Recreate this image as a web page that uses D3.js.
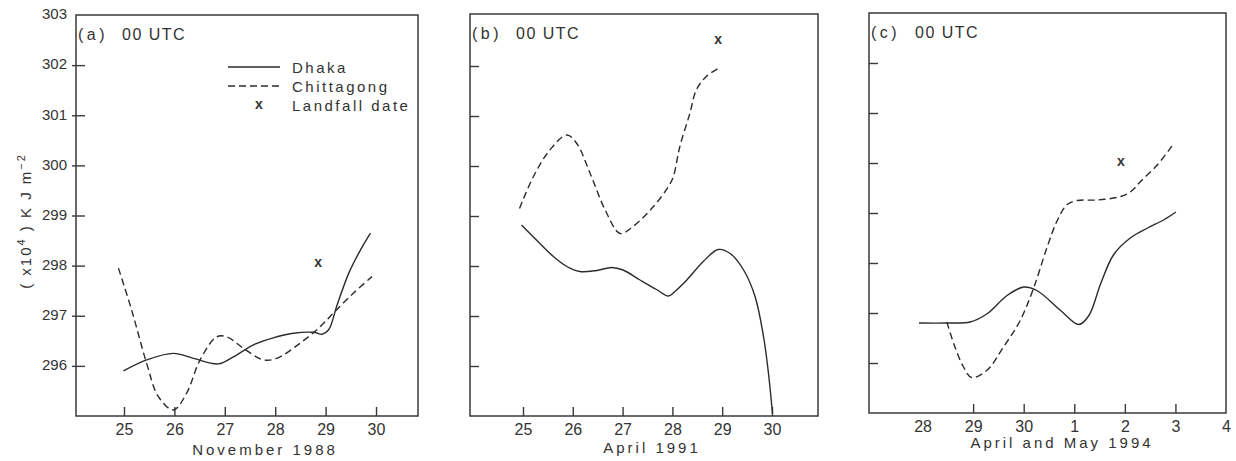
<!DOCTYPE html>
<html><head><meta charset="utf-8">
<script src="https://cdn.jsdelivr.net/npm/d3@7"></script>
<style>
body{margin:0;background:#fff}
svg{display:block}
text{font-family:"Liberation Sans",Arial,sans-serif;fill:#333}
.ylab text{font-size:15px}
.xlab text{font-size:16px}
.title{font-size:15px;letter-spacing:3px}
.ytitle{font-size:15px;letter-spacing:2px}
.plabel{font-size:16px;letter-spacing:1.5px}
.tag{letter-spacing:3.5px}
.legend{font-size:15px;letter-spacing:2.5px}
.mark{font-size:14px;font-weight:bold}
</style></head><body>
<svg id="chart" width="1236" height="461"></svg>
<script>
// ---------- shared ----------
const yTickValues = [296, 297, 298, 299, 300, 301, 302];
const yTickLabels = [296, 297, 298, 299, 300, 301, 302, 303];

// ---------- panel (a) November 1988 ----------
const aTickDays = [25, 26, 27, 28, 29, 30];
const aTickLabels = ["25", "26", "27", "28", "29", "30"];
const aDhakaDay = [24.99, 25.45, 25.98, 26.38, 26.87, 27.17, 27.57, 27.96, 28.36, 28.76, 28.93, 29.06, 29.23, 29.46, 29.69, 29.89];
const aDhakaVal = [295.90, 296.12, 296.25, 296.15, 296.04, 296.18, 296.42, 296.56, 296.65, 296.67, 296.63, 296.72, 297.22, 297.85, 298.31, 298.65];
const aChitDay = [24.89, 25.15, 25.45, 25.68, 25.98, 26.24, 26.51, 26.84, 27.04, 27.37, 27.76, 28.03, 28.49, 28.89, 29.15, 29.55, 29.92];
const aChitVal = [297.95, 297.12, 296.05, 295.39, 295.12, 295.45, 296.12, 296.58, 296.58, 296.35, 296.12, 296.15, 296.45, 296.78, 297.05, 297.45, 297.78];
const aLandfall = [28.85, 298.06];

// ---------- panel (b) April 1991 ----------
const bTickDays = [25, 26, 27, 28, 29, 30];
const bTickLabels = ["25", "26", "27", "28", "29", "30"];
const bDhakaDay = [24.97, 25.27, 25.61, 25.88, 26.14, 26.48, 26.78, 27.01, 27.35, 27.68, 27.92, 28.05, 28.29, 28.62, 28.92, 29.16, 29.43, 29.66, 29.83, 29.93, 30.01];
const bDhakaVal = [298.82, 298.52, 298.19, 297.99, 297.89, 297.91, 297.97, 297.92, 297.72, 297.53, 297.40, 297.49, 297.72, 298.09, 298.33, 298.25, 297.92, 297.39, 296.59, 295.85, 295.05];
const bChitDay = [24.93, 25.21, 25.54, 25.88, 26.08, 26.35, 26.65, 26.95, 27.21, 27.62, 27.92, 28.02, 28.15, 28.35, 28.48, 28.68, 28.92];
const bChitVal = [299.15, 299.79, 300.32, 300.62, 300.45, 299.85, 299.12, 298.65, 298.79, 299.19, 299.59, 299.79, 300.39, 301.05, 301.52, 301.79, 301.95];
const bLandfall = [28.92, 302.52];

// ---------- panel (c) April and May 1994 (index 0 = 28 April) ----------
const cTickIdx = [1, 2, 3, 4, 5];
const cLabelIdx = [0, 1, 2, 3, 4, 5, 6];
const cTickLabels = ["28", "29", "30", "1", "2", "3", "4"];
const cDhakaIdx = [-0.07, 0.48, 0.94, 1.27, 1.67, 2.00, 2.26, 2.73, 3.09, 3.29, 3.52, 3.78, 4.12, 4.45, 4.78, 5.01];
const cDhakaVal = [296.80, 296.80, 296.82, 296.98, 297.35, 297.52, 297.45, 297.05, 296.77, 296.95, 297.58, 298.17, 298.51, 298.70, 298.87, 299.02];
const cChitIdx = [0.48, 0.64, 0.81, 0.97, 1.27, 1.60, 1.93, 2.20, 2.46, 2.66, 2.86, 3.06, 3.45, 3.92, 4.12, 4.31, 4.64, 4.94];
const cChitVal = [296.82, 296.32, 295.92, 295.71, 295.85, 296.32, 296.85, 297.51, 298.31, 298.84, 299.17, 299.25, 299.26, 299.33, 299.43, 299.63, 299.96, 300.35];
const cLandfall = [3.92, 300.03];

const svg = d3.select("#chart");

function zip(xs, ys) { return xs.map((d, i) => [d, ys[i]]); }

function drawPanel(cfg) {
  const g = svg.append("g");
  const x = d3.scaleLinear().domain(cfg.xDomain).range([cfg.left, cfg.right]);
  const y = d3.scaleLinear().domain([295, 303]).range([cfg.bottom, cfg.y303]);

  // frame
  g.append("rect")
    .attr("x", cfg.left).attr("y", cfg.top)
    .attr("width", cfg.right - cfg.left).attr("height", cfg.bottom - cfg.top)
    .attr("fill", "none").attr("stroke", "#3a3a3a").attr("stroke-width", 1.5);

  // bottom ticks (inward)
  const bt = g.append("g").attr("transform", `translate(0,${cfg.bottom})`)
    .call(d3.axisBottom(x).tickValues(cfg.tickVals).tickSize(-9).tickFormat(""));
  bt.select(".domain").remove();
  bt.selectAll("line").attr("stroke", "#3a3a3a").attr("stroke-width", 1.4);

  // bottom labels
  const bl = g.append("g").attr("class", "xlab").attr("transform", `translate(0,${cfg.bottom})`)
    .call(d3.axisBottom(x).tickValues(cfg.labelVals).tickSize(0).tickPadding(8)
      .tickFormat((d, i) => cfg.labels[i]));
  bl.select(".domain").remove();
  bl.selectAll("text").attr("fill", "#333");

  // left ticks (inward)
  const lt = g.append("g").attr("transform", `translate(${cfg.left},0)`)
    .call(d3.axisLeft(y).tickValues(yTickValues).tickSize(-9).tickFormat(""));
  lt.select(".domain").remove();
  lt.selectAll("line").attr("stroke", "#3a3a3a").attr("stroke-width", 1.4);

  if (cfg.yLabels) {
    const ol = g.append("g").attr("transform", `translate(${cfg.left},0)`)
      .call(d3.axisLeft(y).tickValues(yTickValues).tickSize(4).tickFormat(""));
    ol.select(".domain").remove();
    ol.selectAll("line").attr("stroke", "#3a3a3a").attr("stroke-width", 1.4);
    const yl = g.append("g").attr("class", "ylab").attr("transform", `translate(${cfg.left},0)`)
      .call(d3.axisLeft(y).tickValues(yTickLabels).tickSize(0).tickPadding(9).tickFormat(d3.format("d")));
    yl.select(".domain").remove();
    yl.selectAll("text").attr("fill", "#333").attr("dy", "0.25em");
  }

  const line = d3.line().x(d => x(d[0])).y(d => y(d[1])).curve(d3.curveCatmullRom.alpha(0.5));
  g.append("path").datum(zip(cfg.dhakaX, cfg.dhakaY)).attr("d", line)
    .attr("fill", "none").attr("stroke", "#2b2b2b").attr("stroke-width", 1.4);
  g.append("path").datum(zip(cfg.chitX, cfg.chitY)).attr("d", line)
    .attr("fill", "none").attr("stroke", "#2b2b2b").attr("stroke-width", 1.4)
    .attr("stroke-dasharray", "7,4");

  g.append("text").attr("class", "mark").attr("text-anchor", "middle")
    .attr("x", x(cfg.landfall[0])).attr("y", y(cfg.landfall[1])).attr("dy", "0.3em").text("x");

  // panel label
  const pl = g.append("text").attr("class", "plabel").attr("y", cfg.top + 25);
  pl.append("tspan").attr("class", "tag").attr("x", cfg.left + 2).text(cfg.tag);
  pl.append("tspan").attr("x", cfg.left + 46).text("00 UTC");

  // axis title
  g.append("text").attr("class", "title").attr("text-anchor", "middle")
    .attr("x", cfg.titleX).attr("y", cfg.titleY).text(cfg.title);
  return { x, y };
}

drawPanel({
  left: 76, right: 418, top: 15, bottom: 416, y303: 15,
  xDomain: [24.048, 30.833],
  tickVals: aTickDays, labelVals: aTickDays, labels: aTickLabels,
  dhakaX: aDhakaDay, dhakaY: aDhakaVal, chitX: aChitDay, chitY: aChitVal,
  landfall: aLandfall, tag: "(a)", yLabels: true,
  title: "November 1988", titleX: 265, titleY: 455
});
drawPanel({
  left: 470, right: 818, top: 14, bottom: 416, y303: 16,
  xDomain: [23.936, 30.924],
  tickVals: bTickDays, labelVals: bTickDays, labels: bTickLabels,
  dhakaX: bDhakaDay, dhakaY: bDhakaVal, chitX: bChitDay, chitY: bChitVal,
  landfall: bLandfall, tag: "(b)", yLabels: false,
  title: "April 1991", titleX: 652, titleY: 453
});
drawPanel({
  left: 869, right: 1226, top: 13, bottom: 413, y303: 13,
  xDomain: [-1.059, 6.0],
  tickVals: cTickIdx, labelVals: cLabelIdx, labels: cTickLabels,
  dhakaX: cDhakaIdx, dhakaY: cDhakaVal, chitX: cChitIdx, chitY: cChitVal,
  landfall: cLandfall, tag: "(c)", yLabels: false,
  title: "April and May 1994", titleX: 1062, titleY: 448
});

// y-axis title
const yt = svg.append("text").attr("class", "ytitle")
  .attr("text-anchor", "middle")
  .attr("transform", "translate(31,221) rotate(-90)");
yt.append("tspan").text("( x10");
yt.append("tspan").attr("baseline-shift", "super").attr("font-size", "11px").text("4");
yt.append("tspan").text(" ) K J m");
yt.append("tspan").attr("baseline-shift", "super").attr("font-size", "11px").text("−2");

// legend (panel a)
const legend = svg.append("g");
const legItems = [
  { label: "Dhaka", dash: null, y: 67 },
  { label: "Chittagong", dash: "7,4", y: 86 }
];
legItems.forEach(it => {
  legend.append("line").attr("x1", 228).attr("x2", 280).attr("y1", it.y).attr("y2", it.y)
    .attr("stroke", "#2b2b2b").attr("stroke-width", 1.4)
    .attr("stroke-dasharray", it.dash);
  legend.append("text").attr("class", "legend").attr("x", 292).attr("y", it.y + 6).text(it.label);
});
legend.append("text").attr("class", "mark").attr("text-anchor", "middle")
  .attr("x", 259).attr("y", 105).attr("dy", "0.3em").text("x");
legend.append("text").attr("class", "legend").attr("x", 292).attr("y", 111).text("Landfall date");
</script>
</body></html>
